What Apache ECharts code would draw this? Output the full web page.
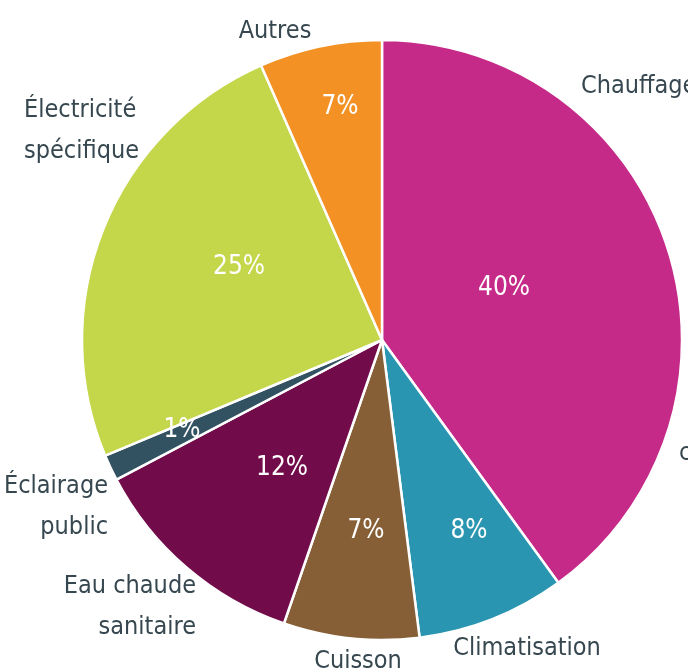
<!DOCTYPE html>
<html>
<head>
<meta charset="utf-8">
<script src="https://cdn.jsdelivr.net/npm/echarts@6/dist/echarts.min.js"></script>
<style>
  html, body { margin: 0; padding: 0; background: #fff; }
  #main { width: 688px; height: 671px; }
</style>
</head>
<body>
<div id="main"></div>
<script>
// usages, clockwise from 12 o'clock
const categories = ['Chauffage', 'Climatisation', 'Cuisson', 'Eau chaude\nsanitaire', 'Éclairage\npublic', 'Électricité\nspécifique', 'Autres']
const shares = [40, 8, 7.3, 12, 1.4, 24.7, 6.6]
const colors = ['#c62a88', '#2a95b1', '#865f37', '#710b4a', '#325262', '#c4d64a', '#f39124']

// label anchors (layout only)
const pctPos = [[504, 288], [469, 531], [366, 531], [282, 468], [182, 430], [239, 267], [340, 107]]
const namePos = [
  [581, 86, 'left'], [527, 648, 'center'], [358, 661, 'center'], [196, 607, 'right'],
  [108, 507, 'right'], [24, 131, 'left'], [275, 31, 'center']
]

const font = '"Liberation Sans Narrow", "DejaVu Sans Condensed", sans-serif'
const textColor = '#36474f'

const chart = echarts.init(document.getElementById('main'))

const data = categories.map((name, i) => ({ name: name, value: shares[i] }))

const option = {
  animation: false,
  color: colors,
  graphic: [
    {
      type: 'text',
      left: 679,
      top: 441,
      style: { text: 'c', fill: textColor, font: '25px ' + font }
    }
  ],
  series: [
    {
      type: 'pie',
      center: [382, 340],
      radius: 300,
      startAngle: 90,
      clockwise: true,
      silent: true,
      itemStyle: { borderColor: '#fff', borderWidth: 2.5 },
      label: {
        show: true,
        position: 'inside',
        color: '#fff',
        fontFamily: font,
        fontSize: 26,
        formatter: p => Math.round(p.percent) + '%'
      },
      labelLine: { show: false },
      labelLayout: p => ({
        x: pctPos[p.dataIndex][0],
        y: pctPos[p.dataIndex][1],
        align: 'center',
        verticalAlign: 'middle'
      }),
      data: data
    },
    {
      type: 'pie',
      center: [382, 340],
      radius: 300,
      startAngle: 90,
      clockwise: true,
      silent: true,
      itemStyle: { color: 'rgba(0,0,0,0)', borderWidth: 0 },
      label: {
        show: true,
        position: 'outside',
        alignTo: 'none',
        overflow: 'none',
        width: 300,
        color: textColor,
        fontFamily: font,
        fontSize: 25,
        lineHeight: 41,
        formatter: '{b}'
      },
      labelLine: { show: false },
      labelLayout: p => ({
        x: namePos[p.dataIndex][0],
        y: namePos[p.dataIndex][1],
        align: namePos[p.dataIndex][2],
        verticalAlign: 'middle'
      }),
      data: data
    }
  ]
}

chart.setOption(option)
</script>
</body>
</html>
